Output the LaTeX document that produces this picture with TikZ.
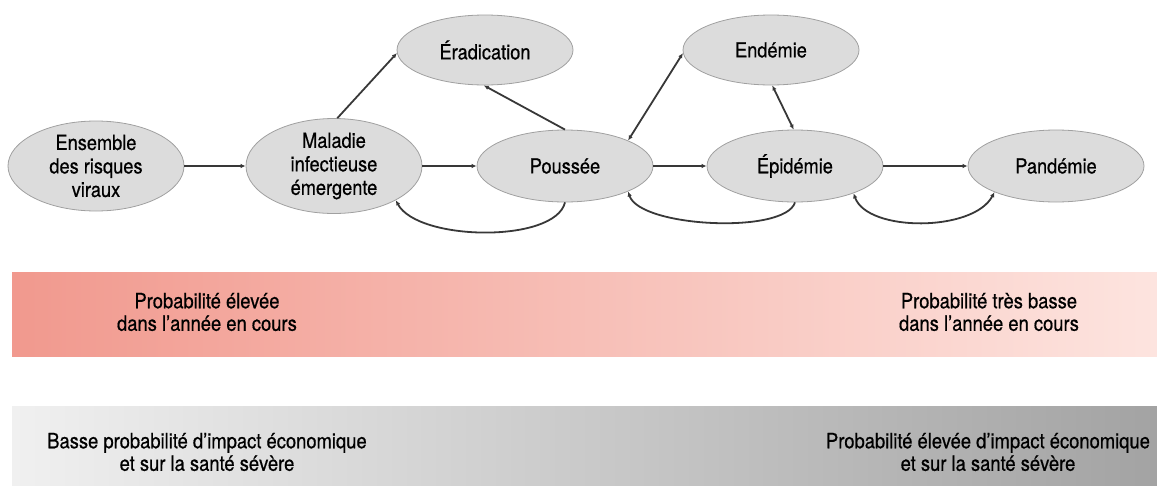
\documentclass[tikz,border=0pt]{standalone}
\usepackage{fontspec}
\setmainfont[FakeStretch=0.875,FakeBold=0.6]{TeX Gyre Heros}
\usetikzlibrary{shapes.geometric,arrows.meta,calc}
\definecolor{nodefill}{HTML}{DCDCDC}
\definecolor{nodeline}{HTML}{A0A0A0}
\definecolor{arrowcol}{HTML}{383838}
\definecolor{redL}{HTML}{F1998E}
\definecolor{redR}{HTML}{FDE4DF}
\definecolor{grayL}{HTML}{F0F0F0}
\definecolor{grayR}{HTML}{A3A3A3}
\begin{document}
\begin{tikzpicture}[x=1pt,y=-1pt,
  state/.style={ellipse, draw=nodeline, line width=0.8pt, fill=nodefill, inner sep=0pt,
    minimum width=176pt, minimum height=72pt, align=center,
    font=\fontsize{20.8}{23.5}\selectfont},
  conn/.style={draw=arrowcol, line width=1.8pt, -{Latex[length=5pt,width=4.5pt]}},
  conn2/.style={draw=arrowcol, line width=1.8pt, {Latex[length=5pt,width=4.5pt]}-{Latex[length=5pt,width=4.5pt]}},
  bandtext/.style={align=center, font=\fontsize{21}{22.5}\selectfont, inner sep=0pt}]
\useasboundingbox (0,0) rectangle (1157,485);
% bands
\shade[left color=redL, right color=redR] (12,272) rectangle (1157,356);
\shade[left color=grayL, right color=grayR] (12,406) rectangle (1157,485);
\node[bandtext] (t1) at (207,312) {Probabilité élevée\\dans l’année en cours};
\node[bandtext] (t2) at (989,312) {Probabilité très basse\\dans l’année en cours};
\node[bandtext] (t3) at (207,452) {Basse probabilité d’impact économique\\et sur la santé sévère};
\node[bandtext] (t4) at (988,452) {Probabilité élevée d’impact économique\\et sur la santé sévère};
% nodes
\node[state, minimum height=90pt] (ens) at (96,166) {Ensemble\\des risques\\viraux};
\node[state, minimum height=95pt] (mal) at (334,166) {Maladie\\infectieuse\\émergente};
\node[state, minimum height=70pt] (era) at (485,50) {Éradication};
\node[state] (pou) at (565,166) {Poussée};
\node[state, minimum height=70pt] (end) at (771,50) {Endémie};
\node[state] (epi) at (795,166) {Épidémie};
\node[state] (pan) at (1056,166) {Pandémie};
% connectors
\draw[conn] (ens.east) -- (mal.west);
\draw[conn] (mal.east) -- (pou.west);
\draw[conn] (pou.east) -- (epi.west);
\draw[conn] (epi.east) -- (pan.west);
\draw[conn] (mal.86) -- (era.182);
\draw[conn] (pou.north) -- (era.268);
\draw[conn2] (pou.22) -- (end.182);
\draw[conn2] (end.272) -- (epi.92);
\draw[conn] (pou.south) .. controls ($(pou.south)+(-10,41)$) and ($(mal.331)+(22,41)$) .. (mal.331);
\draw[conn] (epi.south) .. controls ($(epi.south)+(-10,32)$) and ($(pou.338)+(12,36)$) .. (pou.338);
\draw[conn2] (pan.203) .. controls ($(pan.203)+(-21,40)$) and ($(epi.335)+(14,39)$) .. (epi.335);
\end{tikzpicture}
\end{document}
